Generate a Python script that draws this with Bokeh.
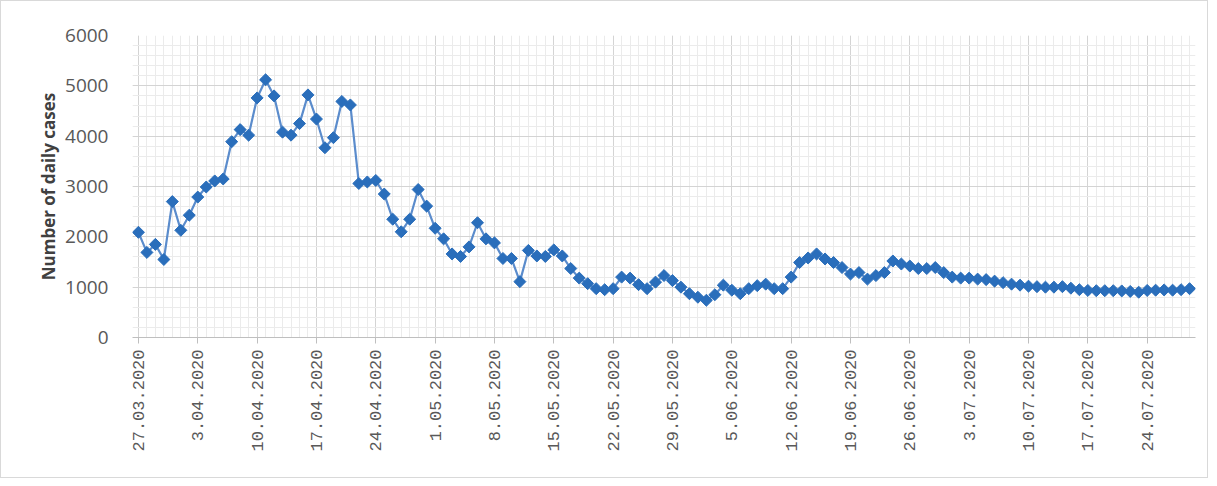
from math import pi
from bokeh.plotting import figure
from bokeh.models import FixedTicker, Range1d, ColumnDataSource
from bokeh.embed import file_html
from bokeh.resources import INLINE

# Daily cases, one value per day starting 27.03.2020
cases = [
    2090, 1690, 1850, 1550, 2700, 2130, 2430, 2790, 2990, 3110,
    3150, 3890, 4130, 4020, 4760, 5120, 4800, 4080, 4020, 4250,
    4820, 4340, 3770, 3970, 4690, 4620, 3060, 3090, 3120, 2850,
    2350, 2100, 2350, 2940, 2610, 2170, 1960, 1660, 1610, 1800,
    2280, 1960, 1880, 1570, 1570, 1110, 1730, 1620, 1610, 1740,
    1620, 1370, 1180, 1070, 970, 950, 970, 1200, 1180, 1050,
    970, 1100, 1230, 1130, 1000, 870, 800, 740, 850, 1040,
    940, 870, 970, 1030, 1060, 970, 970, 1200, 1490, 1580,
    1660, 1560, 1490, 1390, 1260, 1290, 1160, 1230, 1290, 1520,
    1460, 1420, 1370, 1370, 1390, 1290, 1200, 1180, 1180, 1160,
    1150, 1120, 1090, 1060, 1040, 1020, 1010, 1000, 1000, 1010,
    980, 950, 935, 930, 930, 930, 925, 915, 900, 935,
    940, 945, 940, 950, 970,
]

tick_labels = [
    "27.03.2020", "3.04.2020", "10.04.2020", "17.04.2020", "24.04.2020",
    "1.05.2020", "8.05.2020", "15.05.2020", "22.05.2020", "29.05.2020",
    "5.06.2020", "12.06.2020", "19.06.2020", "26.06.2020", "3.07.2020",
    "10.07.2020", "17.07.2020", "24.07.2020",
]
tick_step = 7

y_major = [0, 1000, 2000, 3000, 4000, 5000, 6000]
y_minor_step = 200

days = list(range(len(cases)))
src = ColumnDataSource(dict(day=days, cases=cases))

p = figure(width=1208, height=478, output_backend="svg", toolbar_location=None,
           x_range=Range1d(-0.7, len(cases) - 1 + 0.7), y_range=Range1d(0, 6000),
           min_border_left=131, min_border_right=14, min_border_top=34,
           min_border_bottom=142)
p.background_fill_color = "white"
p.border_fill_color = "white"
p.outline_line_color = None
p.styles = {"border": "1px solid #d9d9d9"}

p.line("day", "cases", source=src, line_color="#5b8ccc", line_width=2.2)
p.scatter("day", "cases", source=src, marker="square", angle=pi / 4, size=8.5,
          fill_color="#2a6ebb", line_color="#2a6ebb", line_width=1)

major_x = [i * tick_step for i in range(len(tick_labels))]
p.xaxis.ticker = FixedTicker(ticks=major_x, minor_ticks=days)
p.xaxis.major_label_overrides = {major_x[i]: tick_labels[i] for i in range(len(tick_labels))}
p.yaxis.ticker = FixedTicker(ticks=y_major,
                             minor_ticks=list(range(0, 6001, y_minor_step)))

for g in (p.xgrid, p.ygrid):
    g.grid_line_color = "#d4d4d4"
    g.grid_line_width = 1
    g.minor_grid_line_color = "#ebebeb"
    g.minor_grid_line_width = 1

p.xaxis.axis_line_color = "#bfbfbf"
p.xaxis.major_tick_line_color = "#bfbfbf"
p.xaxis.major_tick_out = 6
p.xaxis.major_tick_in = 0
p.xaxis.minor_tick_line_color = None
p.xaxis.major_label_orientation = pi / 2
p.xaxis.major_label_standoff = 6
p.xaxis.major_label_text_font = "Liberation Mono"
p.xaxis.major_label_text_font_size = "17px"
p.xaxis.major_label_text_color = "#595959"

p.yaxis.axis_line_color = None
p.yaxis.major_tick_line_color = None
p.yaxis.minor_tick_line_color = None
p.yaxis.major_label_standoff = 18
p.yaxis.major_label_text_font = "Open Sans"
p.yaxis.major_label_text_font_size = "19px"
p.yaxis.major_label_text_color = "#595959"
p.yaxis.axis_label = "Number of daily cases"
p.yaxis.axis_label_text_font = "Open Sans"
p.yaxis.axis_label_text_font_style = "bold"
p.yaxis.axis_label_text_font_size = "17px"
p.yaxis.axis_label_text_color = "#404040"
p.yaxis.axis_label_standoff = 2

open("out.html", "w").write(file_html(p, INLINE))
